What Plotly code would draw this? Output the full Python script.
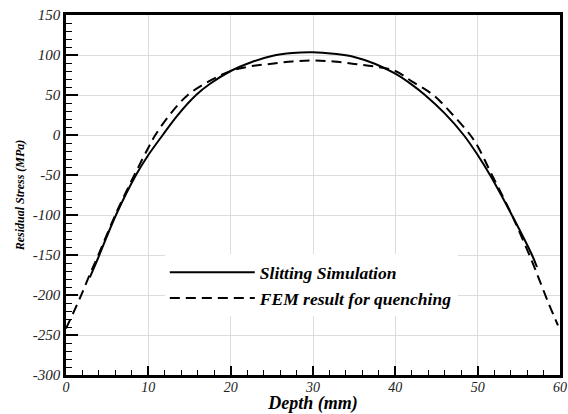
import plotly.graph_objects as go

# Data
slit_x = [2.9, 3.85, 6.07, 8.5, 10, 11.75, 13.5, 15.8, 17.5, 20, 22.5, 25, 27.5, 30, 32.5, 35, 37.5, 40, 42, 43.6, 46, 48.3, 50, 51.5, 54.15, 56.6, 57.2]
slit_y = [-178, -155, -100, -50, -25, 0, 24, 50, 64, 80, 91, 98.8, 102.5, 103.4, 101.5, 97.5, 89, 76.7, 63, 50, 27, 0, -25, -50, -100, -150, -165]

fem_x = [0, 1.3, 2.1, 2.9, 3.85, 6.07, 8.5, 10, 10.85, 12.5, 14.8, 17.5, 20, 22.5, 25, 27.5, 30, 32.5, 35, 37.5, 40, 42, 44.6, 47, 49.1, 50, 51.5, 54.15, 56.6, 57.6, 58.6, 59.75]
fem_y = [-242, -213, -194, -174, -152, -98, -46, -16, 0, 24, 50, 68, 80, 86, 89, 92, 93, 92, 88.8, 85.5, 80, 67, 50, 25, 0, -14, -45, -100, -158, -184, -210, -238]

x_ticks = [0, 10, 20, 30, 40, 50, 60]
x_labels = ["0", "10", "20", "30", "40", "50", "60"]
y_ticks = [150, 100, 50, 0, -50, -100, -150, -200, -250, -300]
y_labels = ["150", "100", "50", "0", "-50", "-100", "-150", "-200", "-250", "-300"]

serif = "Liberation Serif"

fig = go.Figure()
fig.add_trace(go.Scatter(x=slit_x, y=slit_y, mode="lines", name="Slitting Simulation",
                         line=dict(color="black", width=2, shape="spline", smoothing=1.0)))
fig.add_trace(go.Scatter(x=fem_x, y=fem_y, mode="lines", name="FEM result for quenching",
                         line=dict(color="black", width=2, dash="10px,6px", shape="spline", smoothing=1.0)))

axis_common = dict(showline=True, linecolor="black", linewidth=2.5, mirror=True,
                   showgrid=True, gridcolor="#dcdcdc", gridwidth=1, zeroline=False,
                   ticks="inside", tickcolor="black", tickwidth=2, automargin=False)

fig.update_xaxes(range=[0, 60], tickvals=x_ticks, ticktext=x_labels, ticklen=9,
                 tickfont=dict(family=serif, size=14, style="italic", color="#222"),
                 ticklabelstandoff=-3,
                 minor=dict(dtick=2, ticks="inside", ticklen=5, tickcolor="black", tickwidth=1, showgrid=False),
                 title=dict(text="Depth (mm)", standoff=4,
                            font=dict(family=serif, size=18, style="italic", weight="bold", color="black")),
                 **axis_common)
fig.update_yaxes(range=[-300, 150], tickvals=y_ticks, ticktext=y_labels, ticklen=12,
                 tickfont=dict(family=serif, size=15, style="italic", color="#222"),
                 minor=dict(dtick=10, ticks="inside", ticklen=6, tickcolor="black", tickwidth=1, showgrid=False),
                 title=dict(text="Residual Stress (MPa)", standoff=6,
                            font=dict(family=serif, size=12, style="italic", weight="bold", color="black")),
                 **axis_common)

fig.update_layout(
    width=568, height=414,
    margin=dict(l=66, r=8, t=15, b=39),
    paper_bgcolor="white", plot_bgcolor="white",
    showlegend=True,
    legend=dict(x=0.2, y=0.335, xanchor="left", yanchor="top",
                bgcolor="white", borderwidth=0, itemwidth=85,
                font=dict(family=serif, size=17.5, style="italic", weight="bold", color="black"),
                tracegroupgap=0),
)

fig.write_html("out.html")
